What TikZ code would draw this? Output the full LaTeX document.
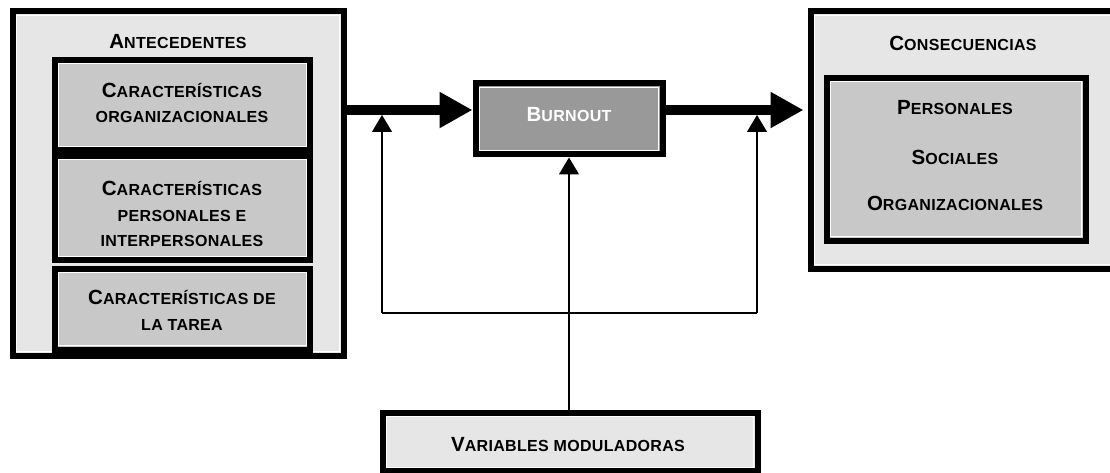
\documentclass[tikz,border=0pt]{standalone}
\usepackage{fontspec}
\setmainfont{Liberation Sans}[LetterSpace=2]
\usetikzlibrary{arrows.meta}
\definecolor{outerfill}{HTML}{E6E6E6}
\definecolor{innerfill}{HTML}{C8C8C8}
\definecolor{burnfill}{HTML}{999999}
\newcommand{\bg}[1]{{\fontsize{20.5}{25.5}\selectfont #1}}
\tikzset{
  frame/.style={draw=black, line width=6pt, rectangle, inner sep=0pt,
    path picture={\draw[white, line width=0.8pt]
      ([shift={(3.8pt,-3.8pt)}]path picture bounding box.north west) rectangle
      ([shift={(-3.8pt,3.8pt)}]path picture bounding box.south east);}},
  outerbox/.style={frame, fill=outerfill},
  innerbox/.style={frame, fill=innerfill},
  burnbox/.style={frame, fill=burnfill},
  lbl/.style={font=\bfseries\fontsize{16}{25.5}\selectfont, align=center, inner sep=0pt, text=black},
  thick arrow/.style={line width=10pt, -{Triangle[length=33pt,width=34pt]}},
  thin arrow/.style={line width=1.2pt, -{Triangle[length=17pt,width=20pt]}},
  thin line/.style={line width=1.2pt}
}
\begin{document}
\begin{tikzpicture}[x=1pt,y=-1pt]
\clip (0,0) rectangle (1110,473);
\fill[white] (0,0) rectangle (1110,473);
% boxes
\node[outerbox, minimum width=330.5pt, minimum height=344pt] (ant) at (178.25,183.5) {};
\node[innerbox, minimum width=255pt, minimum height=90pt] (c1) at (182.5,105) {};
\node[innerbox, minimum width=255pt, minimum height=104pt] (c2) at (182.5,208) {};
\node[innerbox, minimum width=255pt, minimum height=80.5pt] (c3) at (182.5,309.25) {};
\node[burnbox, minimum width=187pt, minimum height=71pt] (burnout) at (569,119) {};
\node[outerbox, minimum width=309.5pt, minimum height=257pt] (cons) at (965.25,140) {};
\node[innerbox, minimum width=259pt, minimum height=162.5pt] (consin) at (956,159.25) {};
\node[outerbox, minimum width=374.5pt, minimum height=58pt] (var) at (570.25,442) {};
% texts
\node[lbl] (antt) at (178,42) {\bg{A}NTECEDENTES};
\node[lbl] (c1t) at (182,103) {\bg{C}ARACTERÍSTICAS\\ORGANIZACIONALES};
\node[lbl] (c2t) at (182,214) {\bg{C}ARACTERÍSTICAS\\PERSONALES E\\INTERPERSONALES};
\node[lbl] (c3t) at (182,310.5) {\bg{C}ARACTERÍSTICAS DE\\LA TAREA};
\node[lbl, text=white] (burnt) at (569,115) {\bg{B}URNOUT};
\node[lbl] (const) at (963,43) {\bg{C}ONSECUENCIAS};
\node[lbl] (p1) at (955,108) {\bg{P}ERSONALES};
\node[lbl] (p2) at (955,157) {\bg{S}OCIALES};
\node[lbl] (p3) at (955,203) {\bg{O}RGANIZACIONALES};
\node[lbl] (vart) at (568,445) {\bg{V}ARIABLES MODULADORAS};
% connectors
\coordinate (ay) at (0,110);
\coordinate (jl) at (382,313);
\coordinate (jr) at (757,313);
\draw[thick arrow] (ant.east |- ay) -- (burnout.west |- ay);
\draw[thick arrow, shorten >=4pt] (burnout.east |- ay) -- (cons.west |- ay);
\draw[thin line] (jl) -- (jr);
\draw[thin arrow, shorten >=5pt] (jl) -- (jl |- ay);
\draw[thin arrow, shorten >=5pt] (jr) -- (jr |- ay);
\draw[thin arrow] (burnout.south |- var.north) -- (burnout.south);
\end{tikzpicture}
\end{document}
